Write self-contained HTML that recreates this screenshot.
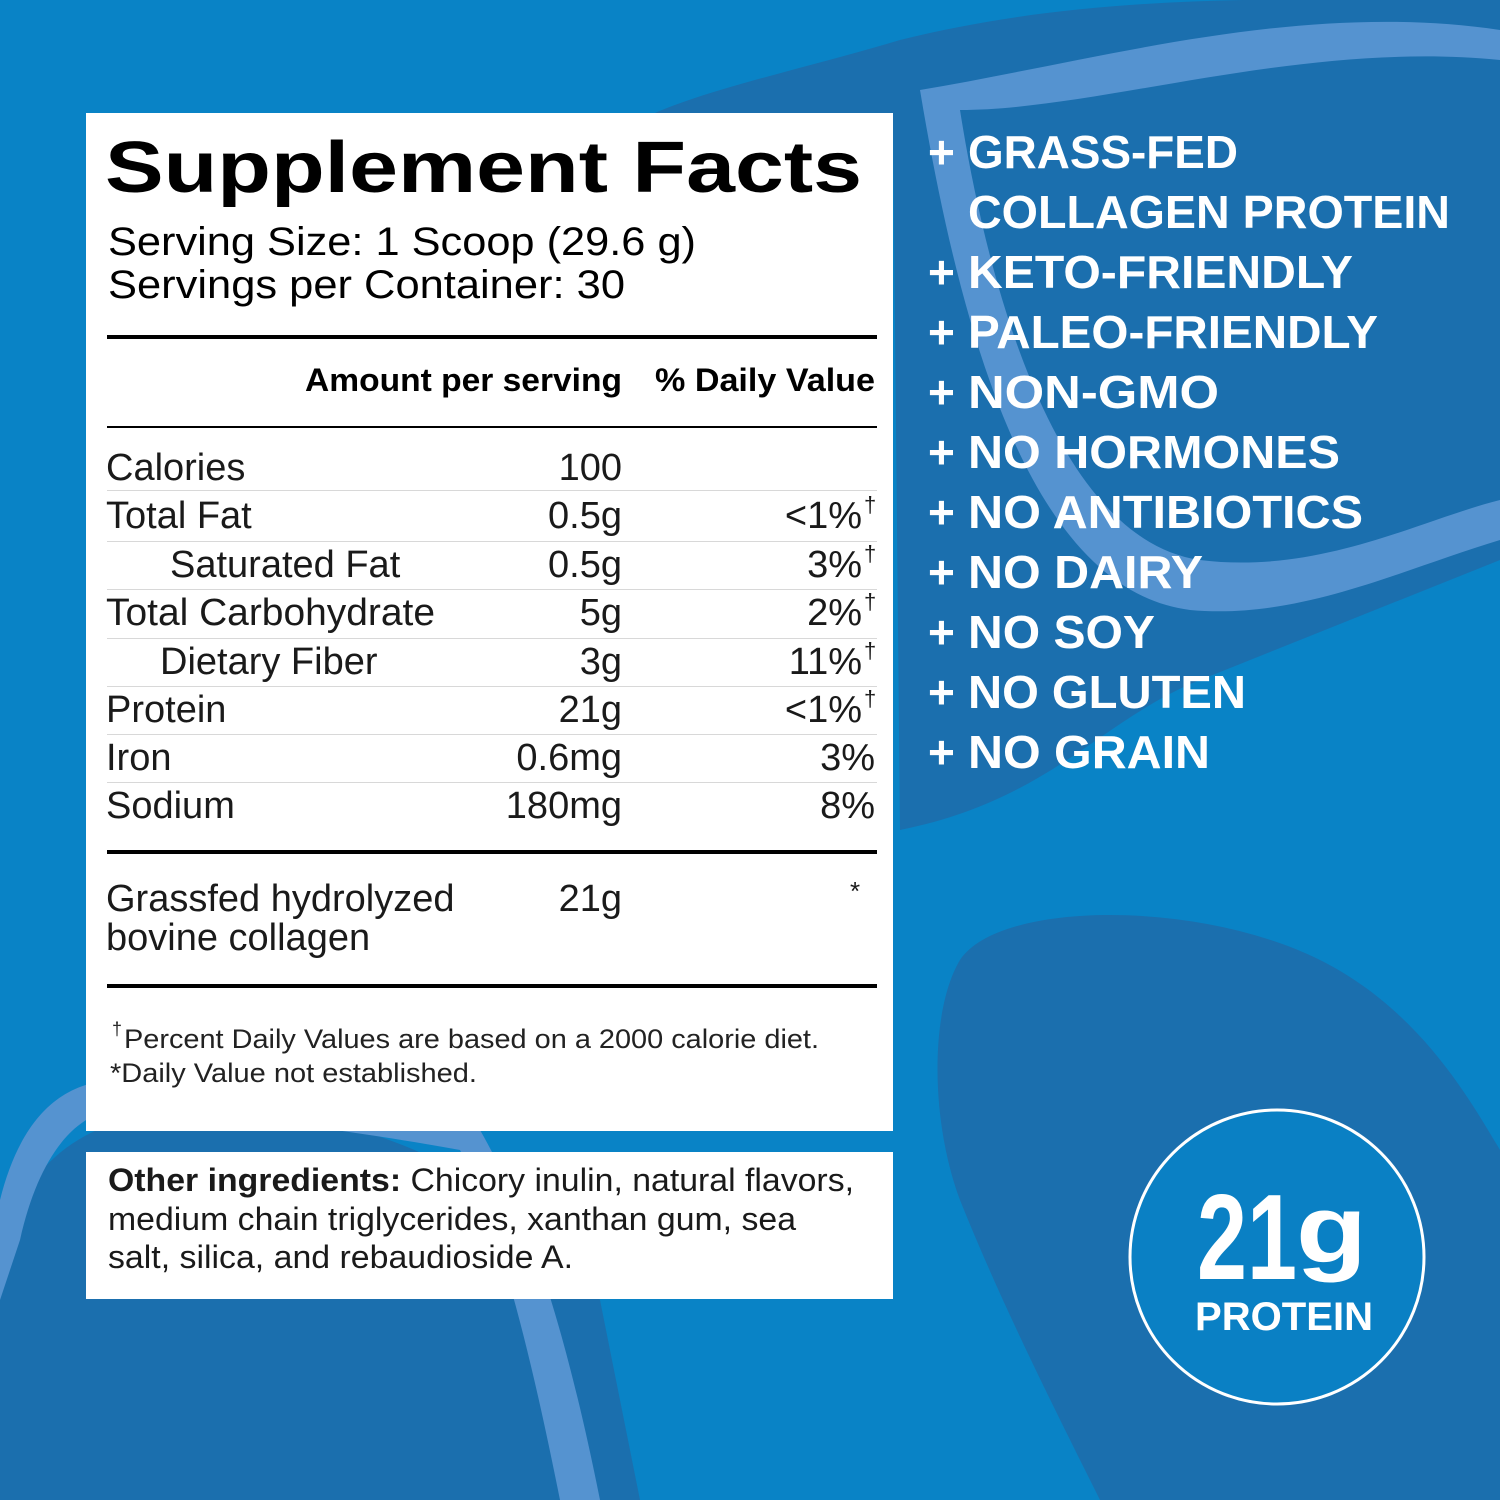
<!DOCTYPE html>
<html><head><meta charset="utf-8"><style>
html,body{margin:0;padding:0;width:1500px;height:1500px;overflow:hidden;background:#0983c6}
svg{display:block}
text{font-family:"Liberation Sans",Arial,sans-serif}
</style></head><body>
<svg width="1500" height="1500" viewBox="0 0 1500 1500" xmlns="http://www.w3.org/2000/svg">
<rect width="1500" height="1500" fill="#0983c6"/>
<path d="M640 120 C700 90 800 70 900 40 C1100 -10 1300 0 1500 0 L1500 560 C1400 600 1300 640 1200 680 C1100 720 1050 800 900 830 L893 120 Z" fill="#1b6fae"/>
<path d="M960 960 C1000 900 1200 900 1320 960 C1420 1010 1470 1100 1500 1150 L1500 1500 L1100 1500 C1050 1400 1000 1300 960 1200 C930 1120 930 1010 960 960 Z" fill="#1b6fae"/>
<path d="M0 1250 C30 1150 100 1100 250 1110 C380 1120 520 1180 600 1300 L640 1500 L0 1500 Z" fill="#1b6fae"/>
<path d="M920 90 C1100 60 1300 0 1500 30 L1500 60 C1300 40 1100 110 960 110 C990 300 1060 540 1200 560 C1320 575 1420 520 1500 500 L1500 540 C1400 570 1300 620 1190 610 C1030 590 960 330 920 90 Z" fill="#5593d0"/>
<path d="M0 1200 C20 1120 60 1080 120 1080 C250 1080 400 1110 440 1130 L480 1130 C520 1200 560 1300 600 1500 L560 1500 C530 1350 500 1230 460 1150 C350 1130 200 1110 120 1110 C80 1110 40 1150 20 1240 L0 1300 Z" fill="#5593d0"/>
<rect x="86" y="113" width="807" height="1018" fill="#fff"/>
<rect x="86" y="1152" width="807" height="147" fill="#fff"/>
<text x="105" y="192" font-size="72" font-weight="bold" textLength="757" lengthAdjust="spacingAndGlyphs">Supplement Facts</text>
<text x="108" y="255" font-size="40" textLength="588" lengthAdjust="spacingAndGlyphs">Serving Size: 1 Scoop (29.6 g)</text>
<text x="108" y="298" font-size="40" textLength="517" lengthAdjust="spacingAndGlyphs">Servings per Container: 30</text>
<rect x="107" y="335" width="770" height="4" fill="#000"/>
<text x="305" y="391" font-size="32" font-weight="bold" textLength="317" lengthAdjust="spacingAndGlyphs">Amount per serving</text>
<text x="655" y="391" font-size="32" font-weight="bold" textLength="220" lengthAdjust="spacingAndGlyphs">% Daily Value</text>
<rect x="107" y="426" width="770" height="2" fill="#000"/>
<g fill="#d8d8d8">
<rect x="107" y="490" width="770" height="1"/><rect x="107" y="541" width="770" height="1"/><rect x="107" y="589" width="770" height="1"/><rect x="107" y="638" width="770" height="1"/><rect x="107" y="686" width="770" height="1"/><rect x="107" y="734" width="770" height="1"/><rect x="107" y="782" width="770" height="1"/>
</g>
<g font-size="38" fill="#1a1a1a">
<text x="106" y="480">Calories</text><text x="622" y="480" text-anchor="end">100</text>
<text x="106" y="528">Total Fat</text><text x="622" y="528" text-anchor="end">0.5g</text><text x="862" y="528" text-anchor="end">&lt;1%</text>
<text x="170" y="577">Saturated Fat</text><text x="622" y="577" text-anchor="end">0.5g</text><text x="862" y="577" text-anchor="end">3%</text>
<text x="106" y="625" textLength="329" lengthAdjust="spacingAndGlyphs">Total Carbohydrate</text><text x="622" y="625" text-anchor="end">5g</text><text x="862" y="625" text-anchor="end">2%</text>
<text x="160" y="674">Dietary Fiber</text><text x="622" y="674" text-anchor="end">3g</text><text x="862" y="674" text-anchor="end">11%</text>
<text x="106" y="722">Protein</text><text x="622" y="722" text-anchor="end">21g</text><text x="862" y="722" text-anchor="end">&lt;1%</text>
<text x="106" y="770">Iron</text><text x="622" y="770" text-anchor="end">0.6mg</text><text x="875" y="770" text-anchor="end">3%</text>
<text x="106" y="818">Sodium</text><text x="622" y="818" text-anchor="end">180mg</text><text x="875" y="818" text-anchor="end">8%</text>
</g>
<g font-size="22" fill="#1a1a1a">
<text x="864" y="512">†</text><text x="864" y="561">†</text><text x="864" y="609">†</text><text x="864" y="658">†</text><text x="864" y="706">†</text>
</g>
<rect x="107" y="850" width="770" height="4" fill="#000"/>
<text x="106" y="911" font-size="38" fill="#1a1a1a">Grassfed hydrolyzed</text>
<text x="106" y="950" font-size="38" fill="#1a1a1a">bovine collagen</text>
<text x="622" y="911" font-size="38" fill="#1a1a1a" text-anchor="end">21g</text>
<text x="850" y="900" font-size="26" fill="#1a1a1a">*</text>
<rect x="107" y="984" width="770" height="4" fill="#000"/>
<text x="112" y="1035" font-size="18" fill="#222">†</text>
<text x="124" y="1048" font-size="27" fill="#222" textLength="695" lengthAdjust="spacingAndGlyphs">Percent Daily Values are based on a 2000 calorie diet.</text>
<text x="110" y="1082" font-size="27" fill="#222" textLength="367" lengthAdjust="spacingAndGlyphs">*Daily Value not established.</text>
<text x="108" y="1191" font-size="32" fill="#1a1a1a" textLength="746" lengthAdjust="spacingAndGlyphs"><tspan font-weight="bold">Other ingredients:</tspan> Chicory inulin, natural flavors,</text>
<text x="108" y="1230" font-size="32" fill="#1a1a1a" textLength="688" lengthAdjust="spacingAndGlyphs">medium chain triglycerides, xanthan gum, sea</text>
<text x="108" y="1268" font-size="32" fill="#1a1a1a" textLength="465" lengthAdjust="spacingAndGlyphs">salt, silica, and rebaudioside A.</text>
<g font-size="46" font-weight="bold" fill="#fff">
<text x="928" y="168">+</text><text x="968" y="168" textLength="270" lengthAdjust="spacingAndGlyphs">GRASS-FED</text>
<text x="968" y="228" textLength="482" lengthAdjust="spacingAndGlyphs">COLLAGEN PROTEIN</text>
<text x="928" y="288">+</text><text x="968" y="288" textLength="385" lengthAdjust="spacingAndGlyphs">KETO-FRIENDLY</text>
<text x="928" y="348">+</text><text x="968" y="348" textLength="410" lengthAdjust="spacingAndGlyphs">PALEO-FRIENDLY</text>
<text x="928" y="408">+</text><text x="968" y="408" textLength="251" lengthAdjust="spacingAndGlyphs">NON-GMO</text>
<text x="928" y="468">+</text><text x="968" y="468" textLength="372" lengthAdjust="spacingAndGlyphs">NO HORMONES</text>
<text x="928" y="528">+</text><text x="968" y="528" textLength="395" lengthAdjust="spacingAndGlyphs">NO ANTIBIOTICS</text>
<text x="928" y="588">+</text><text x="968" y="588" textLength="235" lengthAdjust="spacingAndGlyphs">NO DAIRY</text>
<text x="928" y="648">+</text><text x="968" y="648" textLength="187" lengthAdjust="spacingAndGlyphs">NO SOY</text>
<text x="928" y="708">+</text><text x="968" y="708" textLength="278" lengthAdjust="spacingAndGlyphs">NO GLUTEN</text>
<text x="928" y="768">+</text><text x="968" y="768" textLength="242" lengthAdjust="spacingAndGlyphs">NO GRAIN</text>
</g>
<circle cx="1277" cy="1257" r="147" fill="#0a80c4" stroke="#fff" stroke-width="3"/>
<text x="1197" y="1279" font-size="122" font-weight="bold" fill="#fff" textLength="100" lengthAdjust="spacingAndGlyphs">21</text>
<text x="1296" y="1262" font-size="96" font-weight="bold" fill="#fff" textLength="71" lengthAdjust="spacingAndGlyphs">g</text>
<text x="1195" y="1330" font-size="40" font-weight="bold" fill="#fff" textLength="178" lengthAdjust="spacingAndGlyphs">PROTEIN</text>
</svg>
</body></html>
